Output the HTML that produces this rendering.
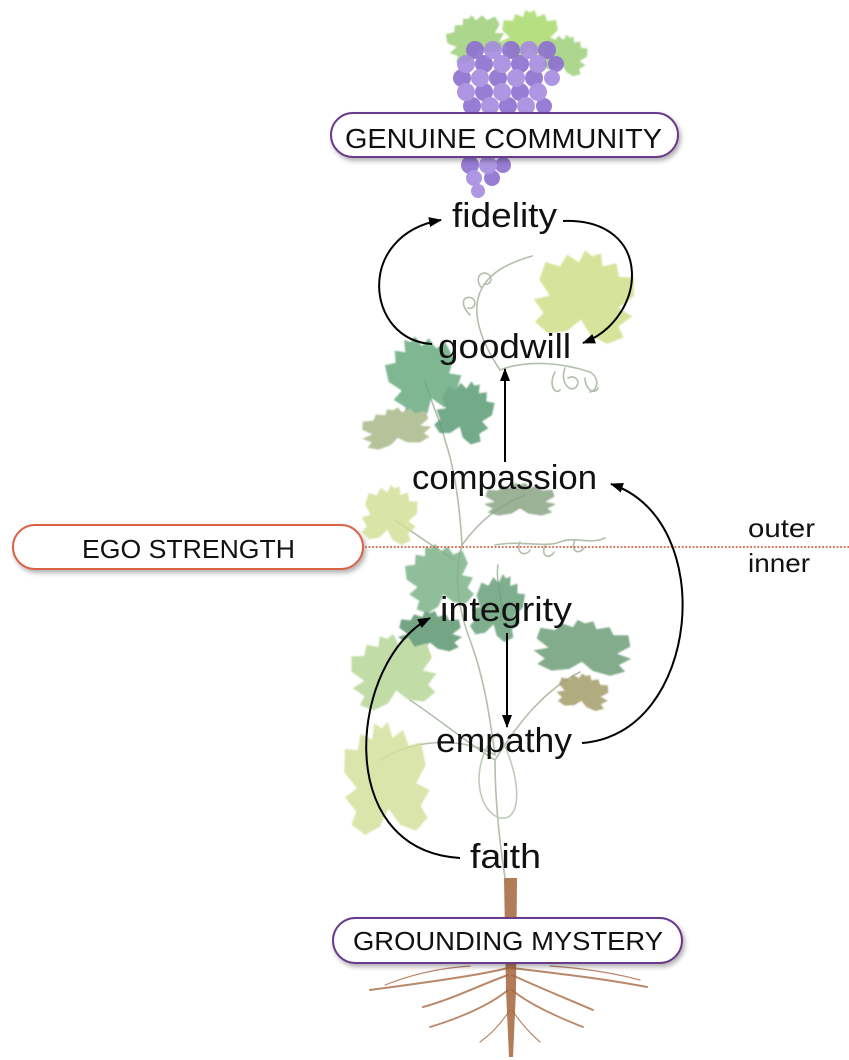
<!DOCTYPE html>
<html>
<head>
<meta charset="utf-8">
<style>
  html, body { margin:0; padding:0; background:#ffffff; }
  body { width:849px; height:1060px; overflow:hidden; }
  svg { display:block; }
  .lbl { font-family:"Liberation Sans", Arial, sans-serif; font-size:34px; fill:#111; }
  .pill { font-family:"Liberation Sans", Arial, sans-serif; fill:#111; }
  .small { font-family:"Liberation Sans", Arial, sans-serif; font-size:26px; fill:#111; }
</style>
</head>
<body>
<svg width="849" height="1060" viewBox="0 0 849 1060" xmlns="http://www.w3.org/2000/svg">
  <defs>
    <path id="leaf" d="M0,25 L-12,40 L-30,46 L-45,36 L-38,25 L-50,12 L-35,5 L-48,-10 L-45,-30 L-30,-28 L-25,-42 L-12,-36 L-8,-50 L0,-45 L8,-50 L12,-36 L25,-42 L30,-28 L45,-30 L48,-10 L35,5 L50,12 L38,25 L45,36 L30,46 L12,40 Z"/>
    <marker id="ah" viewBox="0 0 13 10" refX="12" refY="5" markerWidth="13" markerHeight="10" markerUnits="userSpaceOnUse" orient="auto">
      <path d="M0,0 L13,5 L0,10 Z" fill="#000"/>
    </marker>
    <filter id="sh" x="-10%" y="-30%" width="120%" height="180%">
      <feDropShadow dx="2" dy="3" stdDeviation="2.5" flood-color="#000" flood-opacity="0.3"/>
    </filter>
    <filter id="soft" x="-10%" y="-10%" width="120%" height="120%">
      <feGaussianBlur stdDeviation="0.8"/>
    </filter>
  </defs>

  <!-- ===== Roots ===== -->
  <g stroke="#a86b45" fill="none" stroke-linecap="round" opacity="0.8">
    <path d="M508,968 C480,975 430,982 370,990" stroke-width="2"/>
    <path d="M508,975 C480,985 450,1000 423,1007" stroke-width="2"/>
    <path d="M508,990 C490,1005 460,1018 430,1027" stroke-width="1.8"/>
    <path d="M512,968 C545,972 600,978 647,987" stroke-width="2"/>
    <path d="M512,975 C540,988 570,1000 593,1010" stroke-width="2"/>
    <path d="M512,990 C530,1005 560,1018 583,1027" stroke-width="1.8"/>
    <path d="M470,966 C440,968 410,975 385,985" stroke-width="1.2"/>
    <path d="M550,966 C580,968 610,972 640,980" stroke-width="1.2"/>
    <path d="M510,1010 C500,1025 490,1035 480,1042" stroke-width="1.2"/>
    <path d="M512,1010 C522,1025 532,1035 540,1042" stroke-width="1.2"/>
  </g>
  <path d="M504,878 L517,878 L516,990 L513,1057 L509,1057 L506,990 Z" fill="#a5653c" opacity="0.85"/>

  <!-- ===== Stems & tendrils ===== -->
  <g fill="none" stroke="#a9b9a2" stroke-width="1.6" stroke-linecap="round" opacity="0.9">
    <path d="M505,878 C500,845 495,800 495,760"/>
    <path d="M495,760 C470,745 440,720 410,700"/>
    <path d="M495,760 C520,720 545,690 580,672"/>
    <path d="M495,755 C470,740 420,735 380,760"/>
    <path d="M495,755 C490,720 485,680 470,640"/>
    <path d="M470,640 C455,600 455,570 462,545"/>
    <path d="M462,545 C460,510 455,470 445,440"/>
    <path d="M462,545 C480,520 500,505 525,495"/>
    <path d="M445,440 C440,420 430,400 425,380"/>
    <path d="M455,560 C430,545 410,530 395,520"/>
    <path d="M498,733 C470,760 475,810 500,818 C525,822 520,770 498,733" stroke="#b8c6b2"/>
    <path d="M500,370 C480,340 470,310 482,288 C492,270 512,262 532,256"/>
    <path d="M482,288 C474,280 480,270 488,274 C494,278 490,286 484,284"/>
    <path d="M470,315 C460,305 462,295 472,298 C478,302 474,310 468,308"/>
    <path d="M500,370 C525,360 560,362 590,372 C600,378 598,390 590,392"/>
    <path d="M565,368 C560,380 568,392 575,388 C582,382 575,374 568,378"/>
    <path d="M585,378 C585,390 595,395 598,388"/>
    <path d="M555,372 C548,385 555,395 560,390"/>
    <path d="M495,545 C520,540 545,548 560,542 C575,536 590,545 605,538"/>
    <path d="M520,542 C515,552 525,558 530,550"/>
    <path d="M545,546 C540,556 550,560 554,552"/>
    <path d="M575,540 C570,550 578,556 584,548"/>
    <path d="M498,565 C495,585 505,600 500,620"/>
  </g>

  <!-- ===== Leaves ===== -->
  <g opacity="0.85" filter="url(#soft)">
    <use href="#leaf" transform="translate(585,297) rotate(10) scale(1.0,0.92)" fill="#cfe08a"/>
    <use href="#leaf" transform="translate(424,378) rotate(-20) scale(0.72,0.85)" fill="#68ab80"/>
    <use href="#leaf" transform="translate(465,412) rotate(20) scale(0.55,0.62)" fill="#5a9c75"/>
    <use href="#leaf" transform="translate(396,428) rotate(-10) scale(0.7,0.4)" fill="#a9b988"/>
    <use href="#leaf" transform="translate(520,500) scale(0.72,0.34)" fill="#8aa583"/>
    <use href="#leaf" transform="translate(390,515) rotate(10) scale(0.55,0.6)" fill="#d3e098"/>
    <use href="#leaf" transform="translate(439,578) rotate(-15) scale(0.66,0.68)" fill="#7db389"/>
    <use href="#leaf" transform="translate(498,608) rotate(15) scale(0.5,0.68)" fill="#68a07a"/>
    <use href="#leaf" transform="translate(430,632) scale(0.64,0.42)" fill="#5c9670"/>
    <use href="#leaf" transform="translate(393,672) rotate(-10) scale(0.85,0.75)" fill="#b8d699"/>
    <use href="#leaf" transform="translate(583,648) rotate(5) scale(0.98,0.55)" fill="#6c9e77"/>
    <use href="#leaf" transform="translate(583,692) rotate(10) scale(0.52,0.36)" fill="#a39c6a"/>
    <use href="#leaf" transform="translate(386,780) rotate(-5) scale(0.85,1.15)" fill="#d2e19c"/>
    <use href="#leaf" transform="translate(475,38) rotate(-20) scale(0.58,0.45)" fill="#9ccf78"/>
    <use href="#leaf" transform="translate(530,35) scale(0.58,0.5)" fill="#a9da6c"/>
    <use href="#leaf" transform="translate(565,55) rotate(15) scale(0.45,0.4)" fill="#9fd07a"/>
  </g>

  <!-- ===== Grapes ===== -->
  <g opacity="0.9">
    <g fill="#8d6fd1">
      <circle cx="475" cy="50" r="9"/><circle cx="511" cy="50" r="9"/><circle cx="547" cy="50" r="9"/>
      <circle cx="484" cy="64" r="9"/><circle cx="520" cy="64" r="9"/><circle cx="556" cy="64" r="8"/>
      <circle cx="462" cy="78" r="9"/><circle cx="498" cy="78" r="9"/><circle cx="534" cy="78" r="9"/>
      <circle cx="484" cy="92" r="9"/><circle cx="520" cy="92" r="9"/>
      <circle cx="472" cy="106" r="9"/><circle cx="508" cy="106" r="9"/><circle cx="544" cy="106" r="8"/>
      <circle cx="470" cy="165" r="9"/><circle cx="503" cy="165" r="8"/><circle cx="492" cy="178" r="8"/>
    </g>
    <g fill="#a68bdf">
      <circle cx="493" cy="50" r="9"/><circle cx="529" cy="50" r="9"/>
      <circle cx="466" cy="64" r="9"/><circle cx="502" cy="64" r="9"/><circle cx="538" cy="64" r="9"/>
      <circle cx="480" cy="78" r="9"/><circle cx="516" cy="78" r="9"/><circle cx="552" cy="78" r="8"/>
      <circle cx="466" cy="92" r="9"/><circle cx="502" cy="92" r="9"/><circle cx="538" cy="92" r="9"/>
      <circle cx="490" cy="106" r="9"/><circle cx="526" cy="106" r="9"/>
      <circle cx="488" cy="165" r="9"/><circle cx="474" cy="178" r="8"/><circle cx="478" cy="191" r="7"/>
    </g>
  </g>

  <!-- ===== Pills ===== -->
  <rect x="331" y="113" width="347" height="44" rx="22" fill="#fff" stroke="#6b3a8c" stroke-width="2" filter="url(#sh)"/>
  <text class="pill" x="345" y="148" font-size="28" textLength="317" lengthAdjust="spacingAndGlyphs">GENUINE COMMUNITY</text>

  <rect x="13" y="525" width="350" height="44" rx="22" fill="#fff" stroke="#d9644a" stroke-width="2" filter="url(#sh)"/>
  <text class="pill" x="82" y="558" font-size="26" textLength="213" lengthAdjust="spacingAndGlyphs">EGO STRENGTH</text>

  <rect x="333" y="918" width="349" height="45" rx="22.5" fill="#fff" stroke="#6b3a8c" stroke-width="2" filter="url(#sh)"/>
  <text class="pill" x="353" y="950" font-size="26" textLength="310" lengthAdjust="spacingAndGlyphs">GROUNDING MYSTERY</text>

  <!-- dotted divider -->
  <line x1="365" y1="547" x2="849" y2="547" stroke="#d0603f" stroke-width="1.8" stroke-dasharray="1.8 1.8"/>
  <text class="small" x="748" y="537" textLength="67" lengthAdjust="spacingAndGlyphs">outer</text>
  <text class="small" x="748" y="572" textLength="62" lengthAdjust="spacingAndGlyphs">inner</text>

  <!-- ===== Arrows ===== -->
  <g fill="none" stroke="#000" stroke-width="2">
    <path d="M432,344 C365,340 355,235 441,220" marker-end="url(#ah)"/>
    <path d="M563,221 C655,218 648,318 583,343" marker-end="url(#ah)"/>
    <path d="M505,462 L505,369" marker-end="url(#ah)"/>
    <path d="M582,743 C700,735 720,520 611,484" marker-end="url(#ah)"/>
    <path d="M507,633 L507,727" marker-end="url(#ah)"/>
    <path d="M460,858 C330,850 350,660 430,618" marker-end="url(#ah)"/>
  </g>

  <!-- ===== Labels ===== -->
  <text class="lbl" x="452" y="227" textLength="105" lengthAdjust="spacingAndGlyphs">fidelity</text>
  <text class="lbl" x="438" y="358" textLength="133" lengthAdjust="spacingAndGlyphs">goodwill</text>
  <text class="lbl" x="412" y="489" textLength="185" lengthAdjust="spacingAndGlyphs">compassion</text>
  <text class="lbl" x="440" y="621" textLength="132" lengthAdjust="spacingAndGlyphs">integrity</text>
  <text class="lbl" x="436" y="752" textLength="136" lengthAdjust="spacingAndGlyphs">empathy</text>
  <text class="lbl" x="470" y="868" textLength="71" lengthAdjust="spacingAndGlyphs">faith</text>
</svg>
</body>
</html>
